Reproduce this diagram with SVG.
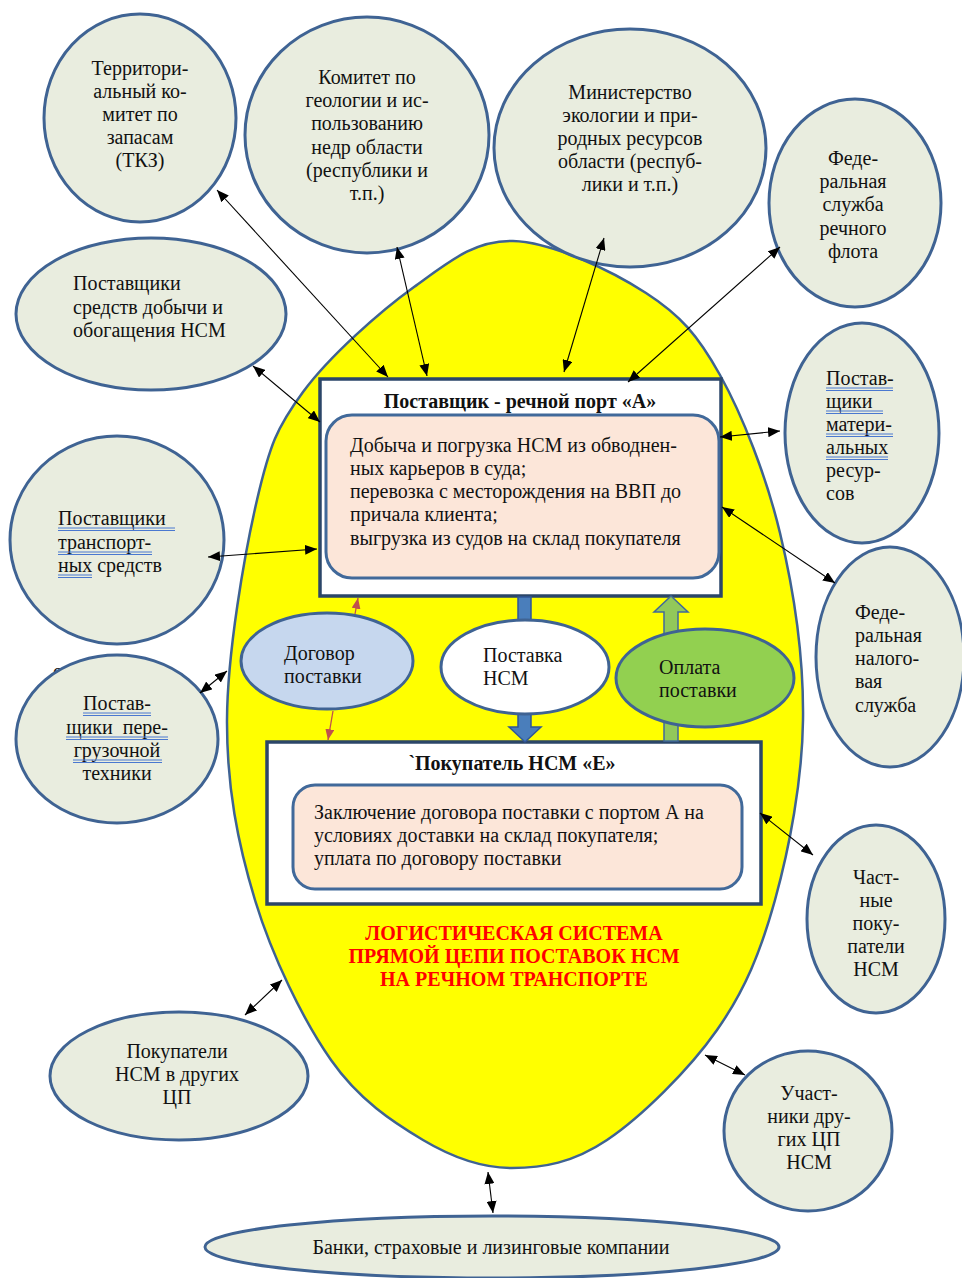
<svg xmlns="http://www.w3.org/2000/svg" width="962" height="1278" viewBox="0 0 962 1278">
<defs>
<style>
text{font-family:"Liberation Serif","Times New Roman",serif;font-size:20px;fill:#111}
.c{text-anchor:middle}
.b{font-weight:bold}
.red{fill:#ff0000;font-weight:bold;text-anchor:middle}
.node{fill:#e9eddf;stroke:#3f6393;stroke-width:3}
.box{fill:#fff;stroke:#2b4668;stroke-width:3.5}
.inner{fill:#fce6d9;stroke:#41699a;stroke-width:3}
.conn{stroke:#000;stroke-width:1.1;fill:none}
.rconn{stroke:#c0504d;stroke-width:1.3;fill:none}
.ul{stroke:#4a78d0;stroke-width:1;fill:none}
</style>
<marker id="ah" viewBox="0 0 12 10" refX="12" refY="5" markerWidth="12" markerHeight="10" markerUnits="userSpaceOnUse" orient="auto-start-reverse"><path d="M0,0 L12,5 L0,10 z" fill="#000"/></marker>
<marker id="rh" viewBox="0 0 12 10" refX="12" refY="5" markerWidth="11" markerHeight="9" markerUnits="userSpaceOnUse" orient="auto"><path d="M0,0 L12,5 L0,10 z" fill="#c0504d"/></marker>
</defs>
<rect width="962" height="1278" fill="#fff"/>

<g id="system">
<path d="M513,241 C551.7,242 611.5,270.7 646,293 C680.5,315.3 697.7,335 720,375 C742.3,415 766.2,475.5 780,533 C793.8,590.5 803.8,658.8 803,720 C802.2,781.2 789.3,848.3 775,900 C760.7,951.7 745,990 717,1030 C689,1070 641.2,1117 607,1140 C572.8,1163 542.7,1168 512,1168 C481.3,1168 453.2,1158 423,1140 C392.8,1122 359,1100 331,1060 C303,1020 272.3,956.7 255,900 C237.7,843.3 226.7,786.7 227,720 C227.3,653.3 244.3,554.7 257,500 C269.7,445.3 276.8,427.5 303,392 C329.2,356.5 379,312.2 414,287 C449,261.8 474.3,240 513,241 Z" fill="#ffff00" stroke="#3f6393" stroke-width="2.5"/>
<text class="red" x="514" y="940">ЛОГИСТИЧЕСКАЯ СИСТЕМА</text>
<text class="red" x="514" y="963">ПРЯМОЙ ЦЕПИ ПОСТАВОК НСМ</text>
<text class="red" x="514" y="986">НА РЕЧНОМ ТРАНСПОРТЕ</text>
</g>

<text x="53" y="678">с</text>

<g id="tkz">
<ellipse class="node" cx="140" cy="118" rx="96" ry="104"/>
<text class="c" x="140" y="75">Территори-</text>
<text class="c" x="140" y="98">альный ко-</text>
<text class="c" x="140" y="121">митет по</text>
<text class="c" x="140" y="144">запасам</text>
<text class="c" x="140" y="167">(ТКЗ)</text>
</g>

<g id="komitet">
<ellipse class="node" cx="367" cy="135" rx="122" ry="118"/>
<text class="c" x="367" y="84">Комитет по</text>
<text class="c" x="367" y="107">геологии и ис-</text>
<text class="c" x="367" y="130">пользованию</text>
<text class="c" x="367" y="154">недр области</text>
<text class="c" x="367" y="177">(республики и</text>
<text class="c" x="367" y="200">т.п.)</text>
</g>

<g id="ministry">
<ellipse class="node" cx="630" cy="148" rx="136" ry="119"/>
<text class="c" x="630" y="99">Министерство</text>
<text class="c" x="630" y="122">экологии и при-</text>
<text class="c" x="630" y="145">родных ресурсов</text>
<text class="c" x="630" y="168">области (респуб-</text>
<text class="c" x="630" y="191">лики и т.п.)</text>
</g>

<g id="river-fleet">
<ellipse class="node" cx="855" cy="203" rx="86" ry="104"/>
<text class="c" x="853" y="165">Феде-</text>
<text class="c" x="853" y="188">ральная</text>
<text class="c" x="853" y="211">служба</text>
<text class="c" x="853" y="235">речного</text>
<text class="c" x="853" y="258">флота</text>
</g>

<g id="mining-suppliers">
<ellipse class="node" cx="151" cy="314" rx="135" ry="76"/>
<text x="73" y="290">Поставщики</text>
<text x="73" y="314">средств добычи и</text>
<text x="73" y="337">обогащения НСМ</text>
</g>

<g id="transport-suppliers">
<ellipse class="node" cx="117" cy="540" rx="107" ry="104"/>
<text x="58" y="525">Поставщики </text>
<text x="58" y="549">транспорт-</text>
<text x="58" y="572">ных средств</text>
<path class="ul" d="M58,528 H175 M58,530.5 H175 M58,552 H152 M58,554.5 H152 M58,575 H92 M58,577.5 H92"/>
</g>

<g id="handling-suppliers">
<ellipse class="node" cx="117" cy="739" rx="101" ry="84"/>
<text class="c" x="117" y="710">Постав-</text>
<text class="c" x="117" y="734" xml:space="preserve">щики  пере-</text>
<text class="c" x="117" y="757">грузочной</text>
<text class="c" x="117" y="780">техники</text>
<path class="ul" d="M83,713 H151 M83,715.5 H151 M66,737 H168 M66,739.5 H168 M73,760 H162 M73,762.5 H162"/>
</g>

<g id="other-buyers">
<ellipse class="node" cx="179" cy="1076" rx="129" ry="64"/>
<text class="c" x="177" y="1058">Покупатели</text>
<text class="c" x="177" y="1081">НСМ в других</text>
<text class="c" x="177" y="1104">ЦП</text>
</g>

<g id="banks">
<ellipse class="node" cx="492" cy="1247" rx="287" ry="31"/>
<text class="c" x="491" y="1254">Банки, страховые и лизинговые компании</text>
</g>

<g id="other-chains">
<ellipse class="node" cx="808" cy="1131" rx="84" ry="80"/>
<text class="c" x="809" y="1100">Участ-</text>
<text class="c" x="809" y="1123">ники дру-</text>
<text class="c" x="809" y="1146">гих ЦП</text>
<text class="c" x="809" y="1169">НСМ</text>
</g>

<g id="private-buyers">
<ellipse class="node" cx="876" cy="919" rx="69" ry="94"/>
<text class="c" x="876" y="884">Част-</text>
<text class="c" x="876" y="907">ные</text>
<text class="c" x="876" y="930">поку-</text>
<text class="c" x="876" y="953">патели</text>
<text class="c" x="876" y="976">НСМ</text>
</g>

<g id="tax-service">
<ellipse class="node" cx="890" cy="657" rx="74" ry="110"/>
<text x="855" y="619">Феде-</text>
<text x="855" y="642">ральная</text>
<text x="855" y="665">налого-</text>
<text x="855" y="688">вая</text>
<text x="855" y="712">служба</text>
</g>

<g id="material-suppliers">
<ellipse class="node" cx="862" cy="433" rx="77" ry="110"/>
<text x="826" y="385">Постав-</text>
<text x="826" y="408">щики </text>
<text x="826" y="431">матери-</text>
<text x="826" y="454">альных</text>
<text x="826" y="477">ресур-</text>
<text x="826" y="500">сов</text>
<path class="ul" d="M826,388 H893 M826,390.5 H893 M826,411 H883 M826,413.5 H883 M826,434 H893 M826,436.5 H893 M826,457 H888 M826,459.5 H888"/>
</g>

<g id="port-a">
<rect class="box" x="320" y="379" width="401" height="217"/>
<text class="c b" x="520" y="408">Поставщик - речной порт «А»</text>
<rect class="inner" x="326" y="415" width="393" height="163" rx="26"/>
<text x="350" y="452">Добыча и погрузка НСМ из обводнен-</text>
<text x="350" y="475">ных карьеров в суда;</text>
<text x="350" y="498">перевозка с месторождения на ВВП до</text>
<text x="350" y="521">причала клиента;</text>
<text x="350" y="545">выгрузка из судов на склад покупателя</text>
</g>

<g id="buyer-e">
<rect class="box" x="267" y="742" width="494" height="162"/>
<text class="c b" x="512" y="770">`Покупатель НСМ «Е»</text>
<rect class="inner" x="293" y="785" width="449" height="104" rx="22"/>
<text x="314" y="819">Заключение договора поставки с портом А на</text>
<text x="314" y="842">условиях доставки на склад покупателя;</text>
<text x="314" y="865">уплата по договору поставки</text>
</g>

<g id="flows">
<path d="M518,597 H531 V727 H541 L525,742 L509,727 H518 Z" fill="#4a7ebb" stroke="#2f5597" stroke-width="1.5"/>
<path d="M664,741 V612 H654 L671,596 L688,612 H678 V741 Z" fill="#92c85a" stroke="#41699a" stroke-width="1.5"/>
</g>

<g id="contract">
<ellipse cx="327" cy="661" rx="86" ry="48" fill="#c6d7ee" stroke="#3f6393" stroke-width="3"/>
<text x="284" y="660">Договор</text>
<text x="284" y="683">поставки</text>
</g>

<g id="delivery">
<ellipse cx="525" cy="667" rx="84" ry="47" fill="#fff" stroke="#3f6393" stroke-width="3"/>
<text x="483" y="662">Поставка</text>
<text x="483" y="685">НСМ</text>
</g>

<g id="payment">
<ellipse cx="705" cy="678" rx="89" ry="49" fill="#92d050" stroke="#3f6393" stroke-width="3"/>
<text x="659" y="674">Оплата</text>
<text x="659" y="697">поставки</text>
</g>

<g id="connectors">
<line class="conn" x1="217" y1="190" x2="388" y2="377" marker-start="url(#ah)" marker-end="url(#ah)"/>
<line class="conn" x1="397" y1="247" x2="427" y2="376" marker-start="url(#ah)" marker-end="url(#ah)"/>
<line class="conn" x1="604" y1="238" x2="564" y2="372" marker-start="url(#ah)" marker-end="url(#ah)"/>
<line class="conn" x1="780" y1="247" x2="628" y2="382" marker-start="url(#ah)" marker-end="url(#ah)"/>
<line class="conn" x1="253" y1="366" x2="320" y2="422" marker-start="url(#ah)" marker-end="url(#ah)"/>
<line class="conn" x1="208" y1="557" x2="317" y2="549" marker-start="url(#ah)" marker-end="url(#ah)"/>
<line class="conn" x1="200" y1="693" x2="227" y2="671" marker-start="url(#ah)" marker-end="url(#ah)"/>
<line class="conn" x1="245" y1="1015" x2="282" y2="980" marker-start="url(#ah)" marker-end="url(#ah)"/>
<line class="conn" x1="488" y1="1172" x2="493" y2="1213" marker-start="url(#ah)" marker-end="url(#ah)"/>
<line class="conn" x1="705" y1="1055" x2="745" y2="1075" marker-start="url(#ah)" marker-end="url(#ah)"/>
<line class="conn" x1="760" y1="813" x2="813" y2="855" marker-start="url(#ah)" marker-end="url(#ah)"/>
<line class="conn" x1="722" y1="507" x2="835" y2="583" marker-start="url(#ah)" marker-end="url(#ah)"/>
<line class="conn" x1="720" y1="437" x2="780" y2="431" marker-start="url(#ah)" marker-end="url(#ah)"/>
<line class="rconn" x1="355" y1="614" x2="358" y2="598" marker-end="url(#rh)"/>
<line class="rconn" x1="333" y1="711" x2="328" y2="740" marker-end="url(#rh)"/>
</g>
</svg>
